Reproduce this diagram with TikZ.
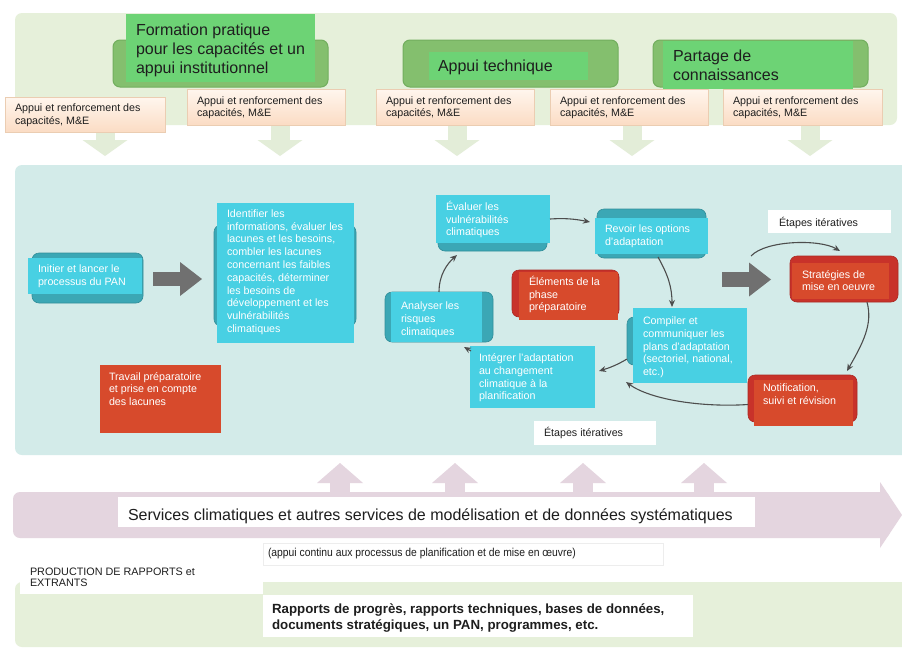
\documentclass[tikz,border=0pt]{standalone}
\usepackage{fontspec}
\setmainfont{Liberation Sans}
\newfontfamily\narrowfont[FakeStretch=0.9]{Liberation Sans}
\usetikzlibrary{arrows.meta,calc}

\definecolor{bandgreen}{HTML}{E6F0DA}
\definecolor{leafdark}{HTML}{84BF6E}
\definecolor{leafline}{HTML}{72AE5E}
\definecolor{leafbright}{HTML}{6DD375}
\definecolor{peachtop}{HTML}{FFF6EE}
\definecolor{peachbot}{HTML}{FBDCC4}
\definecolor{peachline}{HTML}{EBCDB2}
\definecolor{arrgreen}{HTML}{E3EDD8}
\definecolor{bandteal}{HTML}{D3EBE9}
\definecolor{cyanfront}{HTML}{48D0E3}
\definecolor{tealback}{HTML}{3BA7B5}
\definecolor{redfront}{HTML}{D74A2C}
\definecolor{redback}{HTML}{C8322A}
\definecolor{blockgray}{HTML}{707070}
\definecolor{curvegray}{HTML}{4D4D4D}
\definecolor{pinkband}{HTML}{E4D5DF}
\definecolor{textdark}{HTML}{1E1E1E}

% width, height, left pad, top pad, text
\newcommand{\tbx}[5]{\parbox[t][#2pt][t]{#1pt}{\raggedright\leftskip=#3pt\relax\vspace*{#4pt}\strut#5}}

\begin{document}
\begin{tikzpicture}[x=1pt,y=-1pt,
 nw/.style={anchor=north west, inner sep=0pt, outer sep=0pt},
 shell/.style={nw, rectangle, rounded corners=7pt},
 band/.style={shell, fill=#1},
 leafback/.style={shell, fill=leafdark, draw=leafline, line width=1pt},
 leaffront/.style={nw, fill=leafbright, text=textdark, font=\fontsize{16}{19}\selectfont},
 peach/.style={nw, top color=peachtop, bottom color=peachbot, draw=peachline, line width=0.8pt, text=textdark, font=\fontsize{10.7}{12.4}\selectfont},
 tealshell/.style={shell, fill=tealback, draw=tealback!85!black, line width=0.6pt},
 cyanbox/.style={nw, fill=cyanfront, text=white, font=\fontsize{10.7}{12.8}\selectfont},
 redshell/.style={shell, fill=redback, draw=redback!85!black, line width=0.6pt},
 redbox/.style={nw, fill=redfront, text=white, font=\fontsize{10.7}{12.6}\selectfont},
 whitebox/.style={nw, fill=white, text=textdark},
 blockarr/.style={draw=blockgray, line width=14.5pt, -{Triangle[length=22pt,width=34pt,line width=0pt]}},
 downarr/.style={draw=arrgreen, line width=19pt, -{Triangle[length=16pt,width=45pt,line width=0pt]}},
 uparr/.style={draw=pinkband, line width=20pt, -{Triangle[length=20pt,width=46pt,line width=0pt]}},
 cyc/.style={draw=curvegray, line width=1.1pt, -{Stealth[length=7pt,width=6pt]}}
]
\useasboundingbox (0,0) rectangle (902,648);
\fill[white] (0,0) rectangle (902,648);

% ---------- top band ----------
\node[band=bandgreen, minimum width=882pt, minimum height=112pt] (topband) at (15,13) {};
\foreach \x in {105,280,457,632,810} \draw[downarr] (\x,120) -- (\x,156);

\node[leafback, minimum width=215pt, minimum height=47pt] (formback) at (113,40) {};
\node[leaffront] (formation) at (126,14) {\tbx{189}{68}{10}{7.7}{Formation pratique\\pour les capacités et un\\appui institutionnel}};
\node[leafback, minimum width=215pt, minimum height=47pt] (techback) at (403,40) {};
\node[leaffront] (technique) at (429,52) {\tbx{159}{28}{9}{6.4}{Appui technique}};
\node[leafback, minimum width=215pt, minimum height=47pt] (partback) at (653,40) {};
\node[leaffront] (partage) at (663,41) {\tbx{190}{48}{10}{7.4}{Partage de\\connaissances}};

\node[peach] (peach1) at (5,97) {\tbx{160}{35}{10}{6.1}{Appui et renforcement des\\capacités, M\&E}};
\node[peach] (peach2) at (187,89) {\tbx{158}{36}{10}{6.7}{Appui et renforcement des\\capacités, M\&E}};
\node[peach] (peach3) at (376,89) {\tbx{158}{36}{10}{6.7}{Appui et renforcement des\\capacités, M\&E}};
\node[peach] (peach4) at (550,89) {\tbx{158}{36}{10}{6.7}{Appui et renforcement des\\capacités, M\&E}};
\node[peach] (peach5) at (723,89) {\tbx{159}{36}{10}{6.7}{Appui et renforcement des\\capacités, M\&E}};

% ---------- middle band ----------
\node[band=bandteal, minimum width=900pt, minimum height=290pt] (midband) at (15,165) {};

\node[tealshell, minimum width=111pt, minimum height=50pt] (initback) at (32,253) {};
\node[cyanbox] (init) at (28,258) {\tbx{114}{36}{10}{5.5}{Initier et lancer le\\processus du PAN}};

\coordinate (g1a) at (153,279);
\coordinate (g1b) at (202,279);
\draw[blockarr] (g1a) -- (g1b);

\node[tealshell, minimum width=142pt, minimum height=101pt] (identback) at (214,225) {};
\node[cyanbox] (ident) at (217,203) {\tbx{137}{140}{10}{5.3}{Identifier les\\informations, évaluer les\\lacunes et les besoins,\\combler les lacunes\\concernant les faibles\\capacités, déterminer\\les besoins de\\développement et les\\vulnérabilités\\climatiques}};

\node[redbox, font=\fontsize{10.7}{12.5}\selectfont] (travail) at (100,365) {\tbx{121}{68}{9}{6.7}{Travail préparatoire\\et prise en compte\\des lacunes}};

\node[tealshell, minimum width=109pt, minimum height=36pt] (evalback) at (438,215) {};
\node[cyanbox, font=\fontsize{10.7}{12.5}\selectfont] (eval) at (436,195) {\tbx{114}{48}{10}{6.3}{Évaluer les\\vulnérabilités\\climatiques}};

\node[tealshell, minimum width=109pt, minimum height=49pt] (revback) at (597,209) {};
\node[cyanbox] (revoir) at (595,218) {\tbx{113}{36}{10}{5.5}{Revoir les options\\d’adaptation}};

\node[redshell, minimum width=107pt, minimum height=47pt] (elemback) at (512,270) {};
\node[redbox] (elem) at (519,272) {\tbx{99}{48}{10}{4.5}{Éléments de la\\phase\\préparatoire}};

\node[tealshell, minimum width=108pt, minimum height=50pt] (analback) at (385,292) {};
\node[cyanbox] (analyser) at (391,292) {\tbx{91}{50}{10}{8.5}{Analyser les\\risques\\climatiques}};

\node[cyanbox] (integrer) at (470,346) {\tbx{125}{62}{9}{6.5}{Intégrer l’adaptation\\au changement\\climatique à la\\planification}};

\node[tealshell, minimum width=80pt, minimum height=48pt] (compback) at (627,317) {};
\node[cyanbox] (compiler) at (633,308) {\tbx{114}{75}{10}{7.5}{Compiler et\\communiquer les\\plans d’adaptation\\(sectoriel, national,\\etc.)}};

\coordinate (g2a) at (722,279.5);
\coordinate (g2b) at (771,279.5);
\draw[blockarr] (g2a) -- (g2b);

\node[redshell, minimum width=108pt, minimum height=46pt] (stratback) at (790,256) {};
\node[redbox, font=\fontsize{10.7}{12}\selectfont] (strat) at (792,263) {\tbx{97}{36}{10}{7.5}{Stratégies de\\mise en oeuvre}};

\node[redshell, minimum width=109pt, minimum height=47pt] (notifback) at (748,375) {};
\node[redbox, font=\fontsize{10.7}{13}\selectfont] (notif) at (754,380) {\tbx{99}{46}{9}{2.5}{Notification,\\suivi et révision}};

\node[whitebox, font=\fontsize{10.7}{12.8}\selectfont] (etapes1) at (768,210) {\tbx{123}{23}{11}{7.3}{Étapes itératives}};
\node[whitebox, font=\fontsize{10.7}{12.8}\selectfont] (etapes2) at (534,421) {\tbx{122}{24}{10}{6.5}{Étapes itératives}};

% cycle connectors
\draw[cyc] (analback.north) .. controls +(0,-18) and +(-9,8) .. ($(evalback.south west)+(19,4)$);
\draw[cyc] (eval.east) .. controls +(15,-1) and +(-15,-3) .. ($(revoir.north west)+(-5,4)$);
\draw[cyc] ($(revoir.south west)+(63,3)$) .. controls +(10,18) and +(0,-20) .. ($(compiler.north west)+(39,-1)$);
\draw[cyc] ($(compback.south west)+(0,-6)$) .. controls +(-10,6) and +(10,-3) .. ($(integrer.east)+(4,-6)$);
\draw[cyc] ($(notifback.west)+(0,6)$) .. controls +(-45,3) and +(25,18) .. ($(compiler.south west)+(-7,-1)$);
\draw[cyc] ($(integrer.north west)+(1,5)$) -- ($(analback.south east)+(-29,5)$);
\coordinate (loopstart) at (751,256);
\draw[cyc] (loopstart) .. controls +(15,-16) and +(-20,-12) .. ($(stratback.north west)+(50,-5)$);
\draw[cyc] ($(stratback.south east)+(-31,0)$) .. controls +(6,22) and +(16,-28) .. ($(notifback.north east)+(-10,-4)$);

% ---------- bottom ----------
\foreach \x in {340,455,583,704} \draw[uparr] (\x,495) -- (\x,463);
\node[band=pinkband, minimum width=877pt, minimum height=46pt] (pinkrail) at (13,492) {};
\fill[pinkband] (880,482) -- (902,515) -- (880,548) -- cycle;

\node[whitebox, font=\fontsize{16}{19}\selectfont] (services) at (118,497) {\tbx{637}{30}{10}{9.7}{Services climatiques et autres services de modélisation et de données systématiques}};
\node[whitebox, draw=black!7, line width=0.6pt, font=\narrowfont\fontsize{11.5}{13}\selectfont] (continu) at (263,543) {\tbx{400}{22}{5}{3.9}{(appui continu aux processus de planification et de mise en œuvre)}};

\node[band=bandgreen, minimum width=900pt, minimum height=65pt] (outband) at (15,582) {};
\node[whitebox, font=\fontsize{10.8}{11}\selectfont] (production) at (20,558) {\tbx{243}{36}{10}{9.3}{PRODUCTION DE RAPPORTS et\\EXTRANTS}};
\node[whitebox, font=\bfseries\fontsize{13.3}{16}\selectfont] (rapports) at (263,595) {\tbx{430}{42}{9}{6.8}{Rapports de progrès, rapports techniques, bases de données,\\documents stratégiques, un PAN, programmes, etc.}};
\end{tikzpicture}
\end{document}
